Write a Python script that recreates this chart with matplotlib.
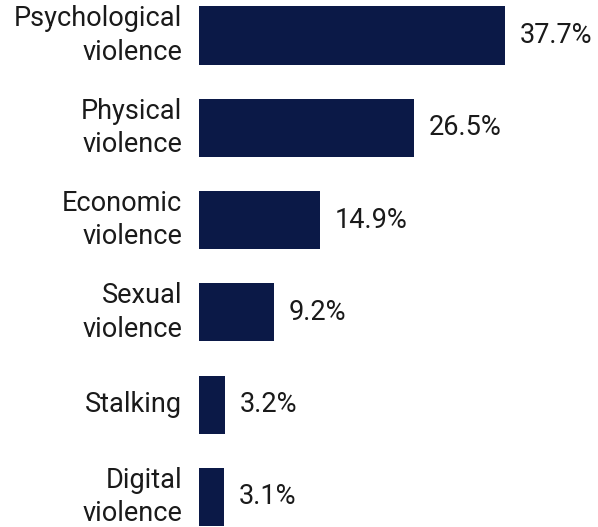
import matplotlib
matplotlib.use('Agg')
import matplotlib.pyplot as plt
import numpy as np

# Forms of violence and their shares (%)
categories = ['Psychological\nviolence', 'Physical\nviolence', 'Economic\nviolence',
              'Sexual\nviolence', 'Stalking', 'Digital\nviolence']
shares = [37.7, 26.5, 14.9, 9.2, 3.2, 3.1]

plt.rcParams['font.family'] = ['Roboto', 'DejaVu Sans']

fig = plt.figure(figsize=(5.98, 5.27), dpi=100)
ax = fig.add_axes([199 / 598, 0, 399 / 598, 1])

y = np.arange(len(categories))
ax.barh(y, shares, height=0.63, color='#0b1947')

ax.set_xlim(0, 399 / 8.12)
ax.set_ylim(5 + 30 / 92.3, -35.5 / 92.3)

for yi, v in zip(y, shares):
    ax.text(v + 1.8, yi, f'{v}%', ha='left', va='center', fontsize=19.5,
            color='#1a1a1a')

for yi, lab in zip(y, categories):
    ax.annotate(lab, xy=(0, yi), xycoords='data', xytext=(-17, 0), textcoords='offset pixels',
                ha='right', va='center', fontsize=19.5, color='#1a1a1a',
                linespacing=1.3, annotation_clip=False)

ax.axis('off')

fig.savefig('out.png', dpi=100)
